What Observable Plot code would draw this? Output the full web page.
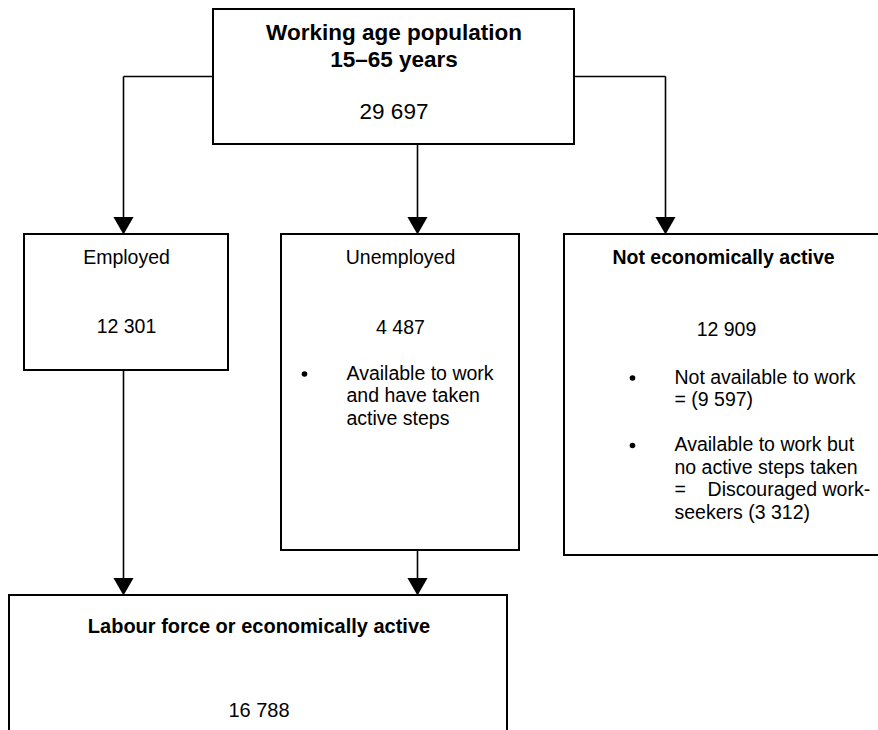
<!DOCTYPE html>
<html>
<head>
<meta charset="utf-8">
<script src="https://cdn.jsdelivr.net/npm/d3@7"></script>
<script src="https://cdn.jsdelivr.net/npm/@observablehq/plot@0.6"></script>
<style>
  html, body { margin: 0; padding: 0; background: #fff; overflow: hidden; }
</style>
</head>
<body>
<div id="chart"></div>
<script>
// ---- Data ----
const boxTitles = [
  "Working age population\n15–65 years",
  "Employed",
  "Unemployed",
  "Not economically active",
  "Labour force or economically active"
];
const boxCounts = [29697, 12301, 4487, 12909, 16788];
const boxBold = [true, false, false, true, true];
const unemployedNotes = ["Available to work\nand have taken\nactive steps"];
const inactiveNotes = [
  "Not available to work\n= (9 597)",
  "Available to work but\nno active steps taken\n=\u00a0\u00a0\u00a0\u00a0Discouraged work-\nseekers (3 312)"
];
// flows: from box index -> to box index
const flows = [[0, 1], [0, 2], [0, 3], [1, 4], [2, 4]];

// ---- Layout (geometry of the diagram, pixel space) ----
const W = 878, H = 730;
const geom = [
  {x1: 213, x2: 574, y1: 9,   y2: 144, cx: 393.5, titleY: 39, countY: 118, fs: 22.5},
  {x1: 24,  x2: 228, y1: 234, y2: 370, cx: 126,   titleY: 263, countY: 332, fs: 19.5},
  {x1: 281, x2: 519, y1: 234, y2: 550, cx: 400,   titleY: 263, countY: 333, fs: 19.5},
  {x1: 564, x2: 881, y1: 234, y2: 555, cx: 723,   titleY: 263, countY: 335, fs: 19.5, countX: 726},
  {x1: 9,   x2: 507, y1: 595, y2: 760, cx: 258.5, titleY: 632, countY: 716, fs: 20}
];
// connector routes: from port (x on source) to target arrow x
const routes = [
  {sx: 213, sy: 76, tx: 123, mode: "side"},
  {sx: 417, sy: 144, tx: 417, mode: "down"},
  {sx: 574, sy: 76, tx: 665, mode: "side"},
  {sx: 123, sy: 370, tx: 123, mode: "down"},
  {sx: 417, sy: 550, tx: 417, mode: "down"}
];
const noteLayout = {
  unemployed: {bulletX: 304, textX: 346, firstBaseline: 379},
  inactive: {bulletX: 632, textX: 674, firstBaseline: 383}
};
const lineH = 22.5;

const fmt = d3.formatLocale({thousands: " ", grouping: [3], decimal: "."}).format(",");
const FONT = "'Liberation Sans', Arial, Helvetica, sans-serif";

// ---- Build mark tables ----
const boxRows = boxTitles.map((t, i) => ({title: t, count: boxCounts[i], bold: boxBold[i], ...geom[i]}));

const titleRows = [];
boxRows.forEach((b, i) => {
  const lines = b.title.split("\n");
  lines.forEach((ln, k) => {
    titleRows.push({x: b.cx, y: b.titleY + k * 27, text: ln, bold: b.bold, fs: b.fs});
  });
});
const countRows = boxRows.map(b => ({x: b.countX ?? b.cx, y: b.countY, text: fmt(b.count), fs: b.fs}));

// connector segments
const segs = [];
const heads = [];
flows.forEach(([s, t], i) => {
  const r = routes[i];
  const ty = geom[t].y1;
  if (r.mode === "side") {
    segs.push({x1: r.sx, y1: r.sy, x2: r.tx, y2: r.sy});
    segs.push({x1: r.tx, y1: r.sy, x2: r.tx, y2: ty - 10});
  } else {
    segs.push({x1: r.sx, y1: r.sy, x2: r.tx, y2: ty - 10});
  }
  heads.push({x: r.tx, y: ty});
});

// notes
const noteRows = [];
const bulletRows = [];
function addNotes(notes, lay) {
  let line = 0;
  notes.forEach((n, j) => {
    const lines = n.split("\n");
    const base = lay.firstBaseline + line * lineH;
    bulletRows.push({x: lay.bulletX, y: base - 5.5});
    lines.forEach((ln, k) => noteRows.push({x: lay.textX, y: base + k * lineH, text: ln}));
    line += lines.length + 1;
  });
}
addNotes(unemployedNotes, noteLayout.unemployed);
addNotes(inactiveNotes, noteLayout.inactive);

// arrowhead geometry: d3 triangle centroid offset
const headArea = 175;
const headR = Math.sqrt(headArea / Math.PI);
const headTip = 2 * Math.sqrt(headArea / (Math.sqrt(3) * 3));

const chart = Plot.plot({
  width: W,
  height: H,
  margin: 0,
  x: {domain: [0, W], range: [0, W], axis: null},
  y: {domain: [0, H], range: [0, H], axis: null},
  style: {fontFamily: FONT, background: "#fff", color: "#000"},
  marks: [
    Plot.rect(boxRows, {x1: "x1", x2: "x2", y1: "y1", y2: "y2", fill: "#fff", stroke: "#000", strokeWidth: 2}),
    Plot.link(segs, {x1: "x1", y1: "y1", x2: "x2", y2: "y2", stroke: "#000", strokeWidth: 1.6}),
    Plot.dot(heads, {x: "x", y: d => d.y - headTip, symbol: "triangle", rotate: 180, r: headR, fill: "#000", stroke: "none"}),
    Plot.text(titleRows.filter(d => d.bold), {x: "x", y: "y", text: "text", lineAnchor: "bottom", fontWeight: "bold", fontSize: d => d.fs, fill: "#000"}),
    Plot.text(titleRows.filter(d => !d.bold), {x: "x", y: "y", text: "text", lineAnchor: "bottom", fontSize: d => d.fs, fill: "#000"}),
    Plot.text(countRows, {x: "x", y: "y", text: "text", lineAnchor: "bottom", fontSize: d => d.fs, fill: "#000"}),
    Plot.dot(bulletRows, {x: "x", y: "y", r: 2.8, fill: "#000", stroke: "none"}),
    Plot.text(noteRows, {x: "x", y: "y", text: "text", textAnchor: "start", lineAnchor: "bottom", fontSize: 19.5, fill: "#000"})
  ]
});
document.getElementById("chart").appendChild(chart);
</script>
</body>
</html>
